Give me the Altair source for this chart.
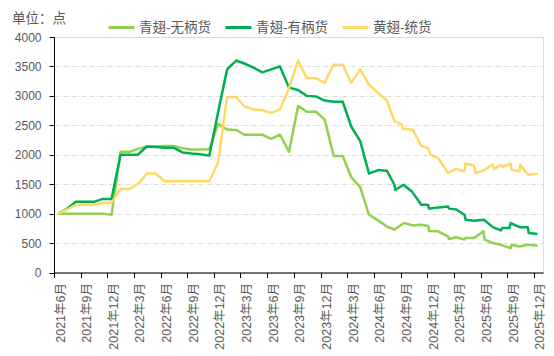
import altair as alt
import pandas as pd

series_names = ["青翅-无柄货", "青翅-有柄货", "黄翅-统货"]
series_colors = ["#92D050", "#00B050", "#FFD966"]
unit_label = ["单位：点"]

# monthly observations (mid-month), 2021-06 .. 2024-07
months_early = [f"{2021 + (5 + i) // 12}-{(5 + i) % 12 + 1:02d}-15" for i in range(38)]

wubing_early = [1000, 1000, 1000, 1000, 1000, 1000, 980,
                2050, 2050, 2100, 2140, 2140, 2150, 2150, 2110, 2090, 2090, 2095,
                2520, 2430, 2420, 2340, 2340, 2340, 2270, 2340, 2050, 2830, 2730, 2730,
                2600, 1980, 1980, 1620, 1450, 980, 885, 780]
youbing_early = [1000, 1080, 1200, 1200, 1200, 1250, 1250,
                 2000, 2000, 2000, 2140, 2130, 2120, 2120, 2040, 2020, 2010, 1985,
                 2720, 3450, 3600, 3550, 3480, 3400, 3450, 3500, 3140, 3100, 3000, 2990,
                 2920, 2900, 2900, 2480, 2230, 1680, 1740, 1730]
huang_early = [1000, 1070, 1150, 1150, 1150, 1180, 1180,
               1420, 1420, 1500, 1680, 1680, 1550, 1550, 1550, 1550, 1550, 1550,
               1870, 2980, 2980, 2820, 2770, 2760, 2710, 2770, 3130, 3600, 3300, 3300,
               3220, 3530, 3530, 3220, 3450, 3190, 3050, 2925]

wubing_late_dates = ["2024-08-10", "2024-09-12", "2024-10-12", "2024-11-10", "2024-12-04",
                     "2024-12-07", "2025-01-07", "2025-02-10", "2025-02-13", "2025-03-10",
                     "2025-04-07", "2025-04-10", "2025-05-10", "2025-06-11", "2025-06-15",
                     "2025-07-13", "2025-08-10", "2025-09-12", "2025-09-15", "2025-10-13",
                     "2025-11-10", "2025-12-13"]
wubing_late = [730, 840, 800, 810, 790, 705, 700, 610, 570, 600, 560, 585, 585, 700, 560,
               500, 470, 415, 470, 442, 470, 454]

youbing_late_dates = ["2024-08-10", "2024-08-13", "2024-09-10", "2024-10-10", "2024-11-10",
                      "2024-12-03", "2024-12-07", "2025-01-07", "2025-02-10", "2025-02-13",
                      "2025-03-10", "2025-04-07", "2025-04-11", "2025-05-10", "2025-06-13",
                      "2025-07-13", "2025-08-10", "2025-08-14", "2025-09-08", "2025-09-12",
                      "2025-10-13", "2025-11-10", "2025-11-13", "2025-12-13"]
youbing_late = [1490, 1400, 1490, 1370, 1150, 1150, 1085, 1105, 1120, 1085, 1070, 980, 895,
                880, 895, 770, 715, 755, 755, 840, 770, 770, 670, 655]

huang_late_dates = ["2024-08-10", "2024-09-03", "2024-09-08", "2024-10-12", "2024-11-10",
                    "2024-12-03", "2024-12-12", "2025-01-07", "2025-02-10", "2025-03-10",
                    "2025-04-07", "2025-04-10", "2025-05-10", "2025-05-15", "2025-06-12",
                    "2025-07-12", "2025-07-18", "2025-08-10", "2025-08-14", "2025-09-12",
                    "2025-09-15", "2025-10-12", "2025-10-15", "2025-11-10", "2025-12-13"]
huang_late = [2570, 2520, 2440, 2425, 2150, 2115, 2000, 1945, 1690, 1760, 1720, 1850, 1815,
              1690, 1735, 1832, 1758, 1832, 1792, 1849, 1747, 1718, 1832, 1662, 1679]

tick_dates = ["2021-06-01", "2021-09-01", "2021-12-01", "2022-03-01", "2022-06-01",
              "2022-09-01", "2022-12-01", "2023-03-01", "2023-06-01", "2023-09-01",
              "2023-12-01", "2024-03-01", "2024-06-01", "2024-09-01", "2024-12-01",
              "2025-03-01", "2025-06-01", "2025-09-01", "2025-12-01"]
x_domain = ["2021-06-01", "2026-01-01"]
y_ticks = [0, 500, 1000, 1500, 2000, 2500, 3000, 3500, 4000]


def ms(d):
    return int(pd.Timestamp(d, tz="UTC").timestamp() * 1000)


rows = []
for name, early, ldates, late in [
    (series_names[0], wubing_early, wubing_late_dates, wubing_late),
    (series_names[1], youbing_early, youbing_late_dates, youbing_late),
    (series_names[2], huang_early, huang_late_dates, huang_late),
]:
    for d, v in zip(months_early + ldates, early + late):
        rows.append({"date": d, "value": v, "series": name})
df = pd.DataFrame(rows)

FONT = "Liberation Sans, Noto Sans CJK SC"
TXT = "#595959"

x_enc = alt.X(
    "date:T",
    scale=alt.Scale(type="utc", domain=[ms(d) for d in x_domain]),
    axis=alt.Axis(
        values=[ms(d) for d in tick_dates],
        labelExpr="utcFormat(datum.value, '%Y年%-m月')",
        labelAngle=270,
        labelBaseline="top",
        labelAlign="right",
        labelFontSize=12.5,
        labelColor=TXT,
        labelFont=FONT,
        labelPadding=5,
        tickSize=5,
        tickColor="black",
        domainColor="black",
        grid=False,
        title=None,
        labelOverlap=False,
    ),
)
y_enc = alt.Y(
    "value:Q",
    scale=alt.Scale(domain=[0, 4000], nice=False),
    axis=alt.Axis(
        values=y_ticks,
        format="d",
        labelFontSize=12,
        labelColor=TXT,
        labelFont=FONT,
        labelPadding=8,
        tickSize=5,
        tickColor="black",
        domainColor="black",
        grid=True,
        gridColor="#d9d9d9",
        gridDash=[4, 2, 1, 2],
        title=None,
    ),
)
color_enc = alt.Color(
    "series:N",
    scale=alt.Scale(domain=series_names, range=series_colors),
    legend=alt.Legend(
        orient="none",
        legendX=53,
        legendY=-24,
        direction="horizontal",
        title=None,
        symbolType="stroke",
        symbolSize=676,
        symbolStrokeWidth=3,
        labelFontSize=13.5,
        labelFont=FONT,
        labelColor=TXT,
        labelOffset=3,
        columnPadding=8,
        padding=0,
    ),
)

layers = []
for name in series_names:
    layers.append(
        alt.Chart(df)
        .transform_filter(alt.datum.series == name)
        .mark_line(strokeWidth=2.5, strokeJoin="round")
        .encode(x=x_enc, y=y_enc, color=color_enc)
    )

unit_text = (
    alt.Chart(pd.DataFrame({"t": unit_label}))
    .mark_text(align="left", baseline="middle", fontSize=13.5, font=FONT, color=TXT)
    .encode(x=alt.value(-42), y=alt.value(-18), text="t:N")
)

chart = (
    alt.layer(*layers, unit_text)
    .properties(
        width=489,
        height=235.5,
        autosize="none",
        padding={"left": 54, "top": 37, "right": 11, "bottom": 84},
    )
    .configure_view(stroke=None)
    .configure(background="white")
)

chart.save("out.html", embed_options={"renderer": "svg", "actions": False})
